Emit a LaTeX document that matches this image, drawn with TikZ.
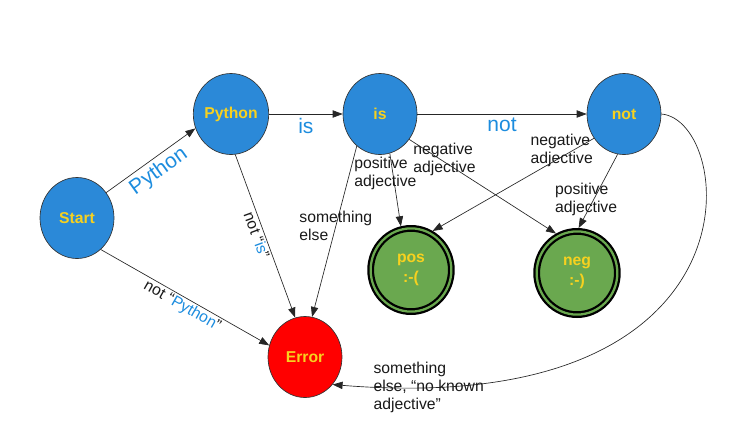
\documentclass[tikz,border=0pt]{standalone}
\usepackage{fontspec}
\setmainfont{Liberation Sans}
\usepackage{xcolor}
\usepackage{tikz}
\usetikzlibrary{arrows.meta,shapes.geometric}
\definecolor{nodeblue}{RGB}{43,137,216}
\definecolor{txtyellow}{RGB}{247,209,31}
\definecolor{accgreen}{RGB}{106,168,79}
\definecolor{lblblue}{RGB}{28,140,222}

\begin{document}
\begin{tikzpicture}[x=0.75pt,y=-0.75pt,>={Triangle[length=7.5pt,width=5.5pt]},
bluestate/.style={ellipse,draw=black!80,line width=0.5pt,fill=nodeblue,minimum width=55.5pt,minimum height=60.75pt,inner sep=0pt,text=txtyellow,font=\fontsize{11.8}{15}\selectfont\bfseries},
errstate/.style={bluestate,fill=red},
finalstate/.style={bluestate,draw=black,line width=1.7pt,double=accgreen,double distance=1.7pt,fill=accgreen,minimum width=60.5pt,minimum height=62.4pt,outer sep=2.5pt,align=center},
arr/.style={->,draw=black!85,line width=0.5pt},
lbl/.style={inner sep=1pt,text=black!90,font=\fontsize{11.8}{13.5}\selectfont},
edgelbl/.style={inner sep=2.7pt,text=lblblue,font=\fontsize{15.75}{18}\selectfont}]
\useasboundingbox (0,0) rectangle (739,440);
% states
\node[bluestate] (start) at (77,218) {Start};
\node[bluestate] (python) at (231,114) {Python};
\node[bluestate] (is) at (380,114) {is};
\node[bluestate] (not) at (624,114) {not};
\node[finalstate] (pos) at (411,270) {pos\\:-(};
\node[finalstate] (neg) at (577,273) {neg\\:-)};
\node[errstate] (error) at (305,357) {Error};
% transitions
\draw[arr] (start.41) -- node[edgelbl,sloped,below] {Python} (python.-158);
\draw[arr] (python) -- node[edgelbl,below] {is} (is);
\draw[arr] (is) -- node[edgelbl,below] {not} (not);
\draw[arr] (start.-53) -- node[lbl,sloped,below,pos=0.51] {not “\textcolor{lblblue}{Python}”} (error.162);
\draw[arr] (python.-84) -- node[lbl,sloped,below,pos=0.48] {not “\textcolor{lblblue}{is}”} (error.104);
\draw[arr] (is.-126) -- node[lbl,align=left,pos=0.47] {something\\else} (error.80);
\draw[arr] (is.-76) -- node[lbl,align=left,pos=0.27,xshift=-5.6pt] {positive\\adjective} (pos.103);
\draw[arr] (is.-41) -- node[lbl,align=left,pos=0.24,yshift=2.2pt] {negative\\adjective} (neg.118);
\draw[arr] (not.-141) -- node[lbl,align=left,pos=0.2,yshift=4.5pt] {negative\\adjective} (pos.61);
\draw[arr] (not.-99) -- node[lbl,align=left,pos=0.61,xshift=-5.8pt] {positive\\adjective} (neg.88);
\draw[arr] (not.east) .. controls (735,120) and (770,420) .. node[lbl,align=left,pos=0.92] {something\\else, “no known\\adjective”} (error.-45);
\end{tikzpicture}
\end{document}
